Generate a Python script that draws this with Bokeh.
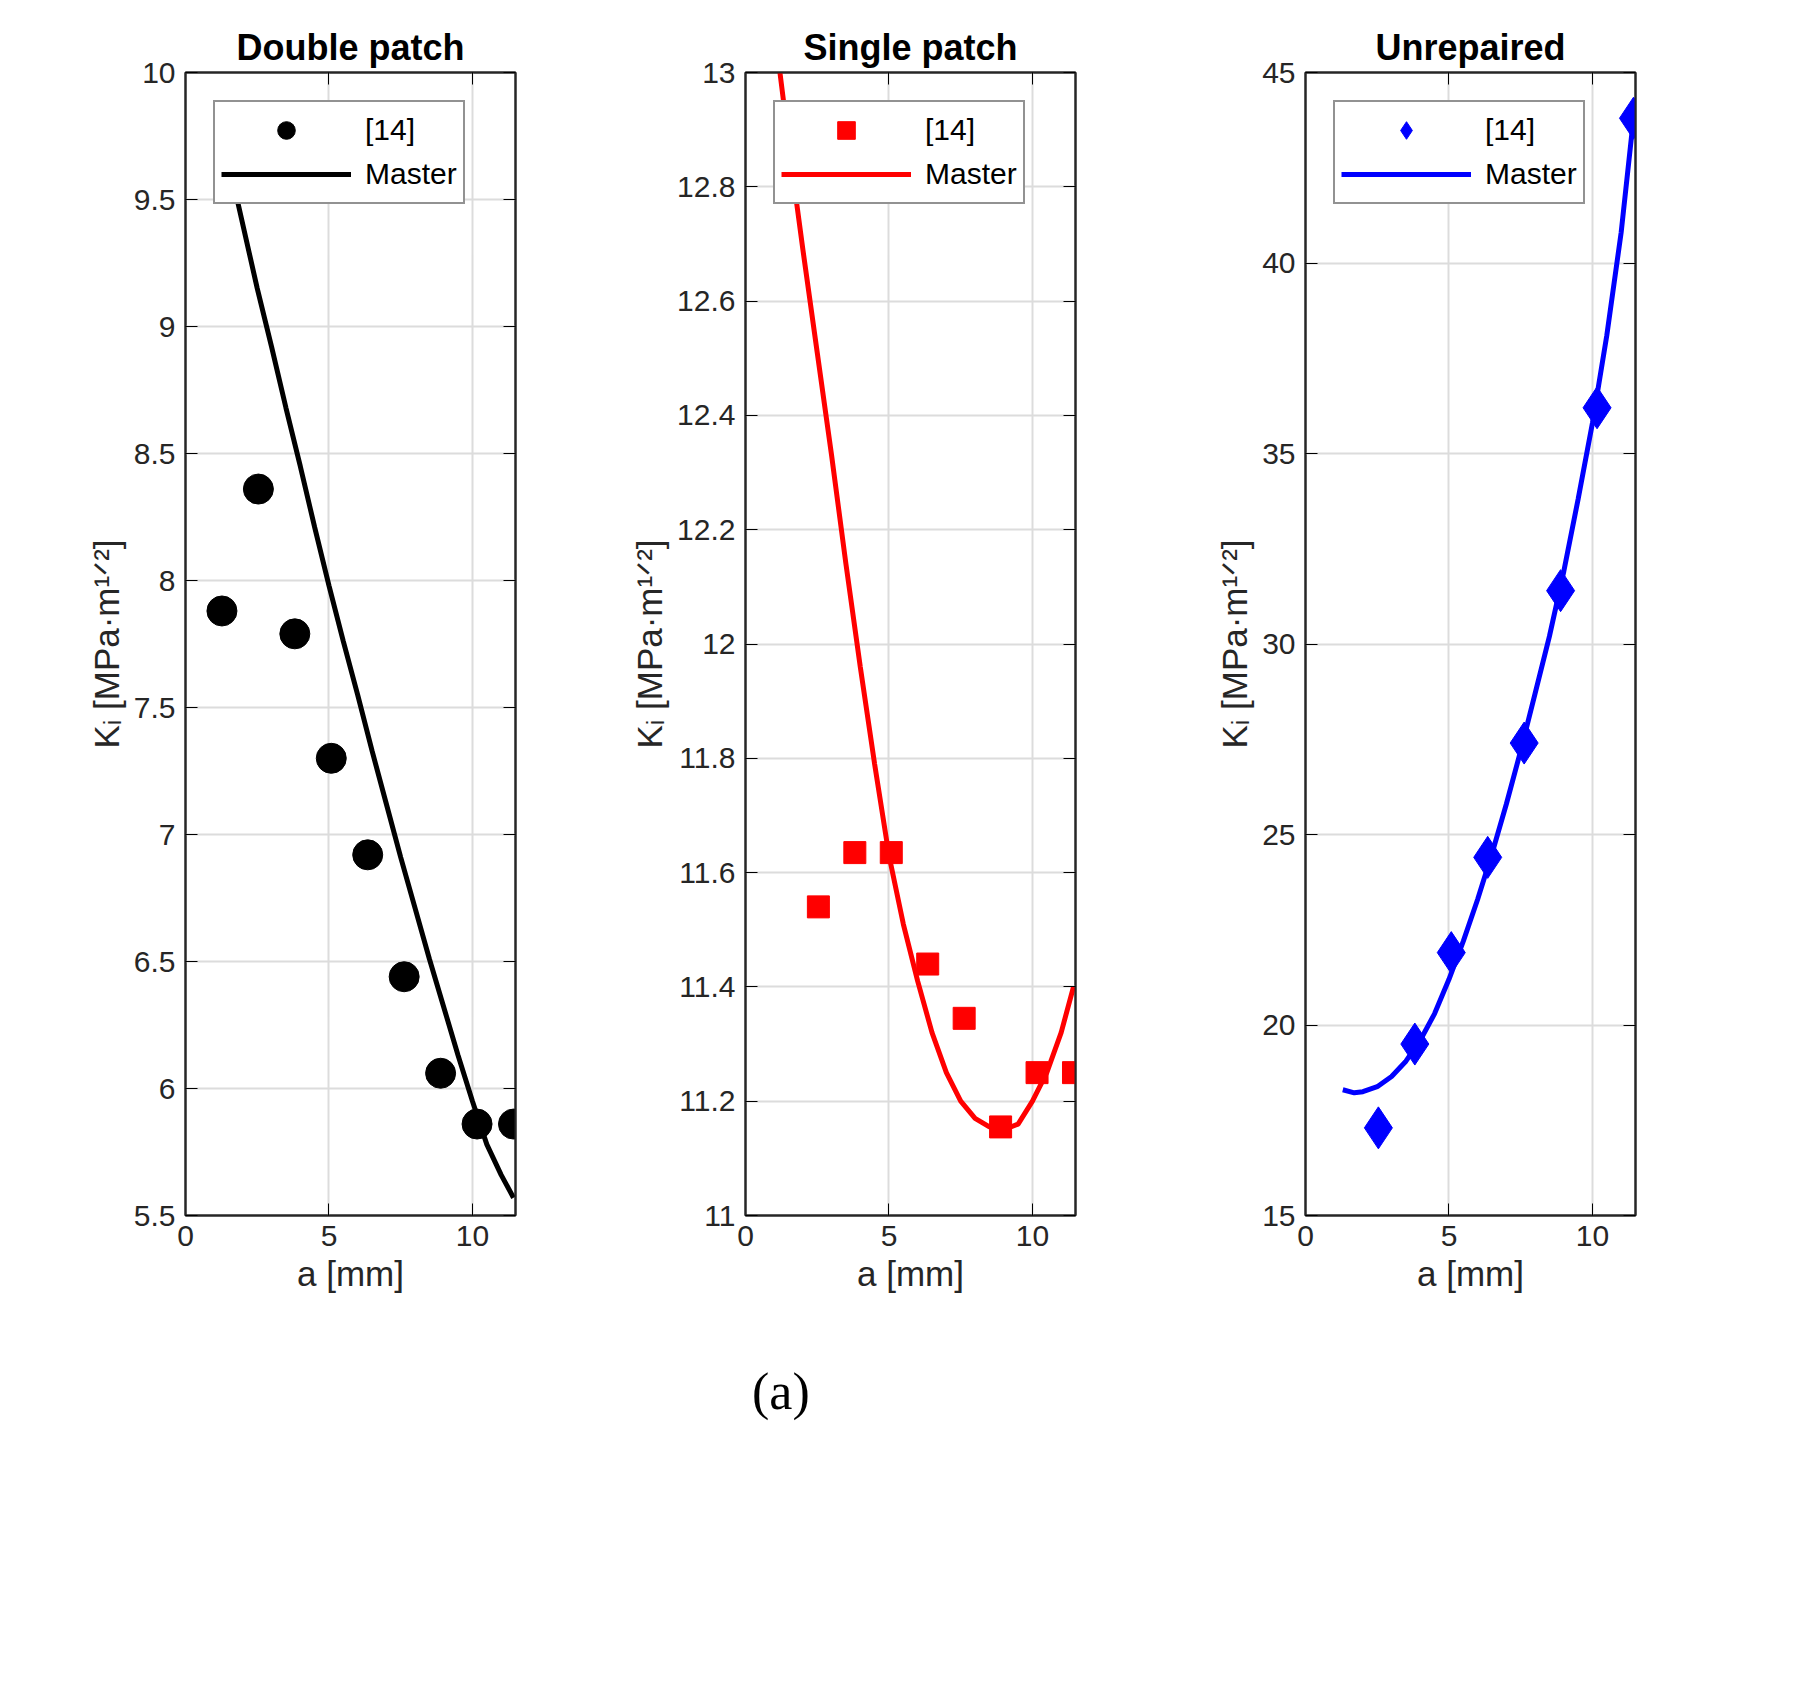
from bokeh.plotting import figure
from bokeh.layouts import column, row
from bokeh.models import Div, LinearAxis, Range1d, Legend, LegendItem, FixedTicker
from bokeh.embed import file_html
from bokeh.resources import INLINE

xs = [1.27, 2.54, 3.81, 5.08, 6.35, 7.62, 8.89, 10.16, 11.43]
dp_y = [7.88, 8.36, 7.79, 7.30, 6.92, 6.44, 6.06, 5.86, 5.86]
dp_mx = [1.7, 2.5, 3, 3.5, 4, 4.5, 5, 5.5, 6, 6.5, 7, 7.5, 8, 8.5, 9, 9.5, 10, 10.5, 11, 11.43]
dp_my = [9.55, 9.15, 8.92, 8.68, 8.45, 8.21, 7.98, 7.76, 7.55, 7.33, 7.12, 6.91, 6.71, 6.51, 6.32, 6.13, 5.95, 5.78, 5.66, 5.57]

sp_x = xs[1:]
sp_y = [11.54, 11.635, 11.635, 11.44, 11.345, 11.155, 11.25, 11.25]
sp_mx = [1.2, 1.6, 2, 2.5, 3, 3.5, 4, 4.5, 5, 5.5, 6, 6.5, 7, 7.5, 8, 8.5, 9, 9.5, 10, 10.5, 11, 11.43]
sp_my = [13.0, 12.84, 12.69, 12.51, 12.33, 12.14, 11.96, 11.79, 11.63, 11.51, 11.41, 11.32, 11.25, 11.2, 11.17, 11.155, 11.15, 11.16, 11.2, 11.25, 11.32, 11.4]

ur_x = xs[1:]
ur_y = [17.3, 19.5, 21.9, 24.4, 27.4, 31.4, 36.2, 43.8]
ur_mx = [1.3, 1.7, 2, 2.5, 3, 3.5, 4, 4.5, 5, 5.5, 6, 6.5, 7, 7.5, 8, 8.5, 9, 9.5, 10, 10.5, 11, 11.43]
ur_my = [18.3, 18.22, 18.25, 18.38, 18.65, 19.05, 19.6, 20.3, 21.2, 22.2, 23.3, 24.5, 25.8, 27.2, 28.7, 30.2, 31.9, 33.8, 35.8, 38.1, 40.8, 43.8]

FONT = "Liberation Sans"
DARK = "#262626"

def make(title, ymin, ymax, yticks, sx, sy, mx, my, color, marker, msize):
    p = figure(title=title, output_backend="svg", toolbar_location=None,
               frame_width=330, frame_height=1143,
               min_border_left=185, min_border_right=45, min_border_top=72, min_border_bottom=120,
               x_range=Range1d(0, 11.5), y_range=Range1d(ymin, ymax))
    p.title.text_font = FONT
    p.title.text_font_size = "36px"
    p.title.text_font_style = "bold"
    p.title.text_color = "black"
    p.title.align = "center"
    p.outline_line_color = DARK
    p.outline_line_width = 2
    for ax in (p.xaxis[0], p.yaxis[0]):
        ax.major_label_text_font = FONT
        ax.major_label_text_font_size = "30px"
        ax.major_label_text_color = DARK
        ax.major_label_standoff = 10
        ax.axis_label_text_font = FONT
        ax.axis_label_text_font_size = "35px"
        ax.axis_label_text_font_style = "normal"
        ax.axis_label_text_color = DARK
        ax.major_tick_in = 12
        ax.major_tick_out = 0
        ax.minor_tick_line_color = None
        ax.axis_line_color = DARK
        ax.axis_line_width = 2
    p.xaxis.ticker = FixedTicker(ticks=[0, 5, 10])
    p.yaxis.ticker = FixedTicker(ticks=yticks)
    p.xaxis.axis_label = "a [mm]"
    p.yaxis.axis_label = "Kᵢ [MPa·m¹ᐟ²]"
    for loc, tk in (("above", [0, 5, 10]), ("right", yticks)):
        a = LinearAxis(ticker=FixedTicker(ticks=tk), major_label_text_font_size="0px",
                       major_tick_in=12, major_tick_out=0, minor_tick_line_color=None,
                       axis_line_color=DARK, axis_line_width=2)
        p.add_layout(a, loc)
    p.grid.grid_line_color = "#dcdcdc"
    p.grid.grid_line_width = 2
    p.xgrid.ticker = FixedTicker(ticks=[0, 5, 10])
    p.ygrid.ticker = FixedTicker(ticks=yticks)
    ln = p.line(mx, my, line_color=color, line_width=5)
    sc = p.scatter(sx, sy, marker=marker, size=msize, fill_color=color, line_color=color)
    leg = Legend(items=[LegendItem(label="[14]", renderers=[sc]), LegendItem(label="Master", renderers=[ln])],
                 location="top_left", label_text_font=FONT, label_text_font_size="30px",
                 label_text_color="black",
                 glyph_width=130, glyph_height=44, label_standoff=14, spacing=0,
                 border_line_color=DARK, border_line_width=2, margin=28,
                 padding=6, background_fill_alpha=1)
    p.add_layout(leg, "center")
    return p

f1 = make("Double patch", 5.5, 10, [5.5, 6, 6.5, 7, 7.5, 8, 8.5, 9, 9.5, 10],
          xs, dp_y, dp_mx, dp_my, "black", "circle", 30)
f2 = make("Single patch", 11, 13, [11, 11.2, 11.4, 11.6, 11.8, 12, 12.2, 12.4, 12.6, 12.8, 13],
          sp_x, sp_y, sp_mx, sp_my, "red", "square", 22)
f3 = make("Unrepaired", 15, 45, [15, 20, 25, 30, 35, 40, 45],
          ur_x, ur_y, ur_mx, ur_my, "blue", "diamond", 42)

cap = Div(text="(a)", width=200, height=90)
cap.styles = {"font-family": "Liberation Serif", "font-size": "52px", "margin-left": "752px",
              "margin-top": "20px"}
layout = column(row(f1, f2, f3), cap)
open("out.html", "w").write(file_html(layout, INLINE))
